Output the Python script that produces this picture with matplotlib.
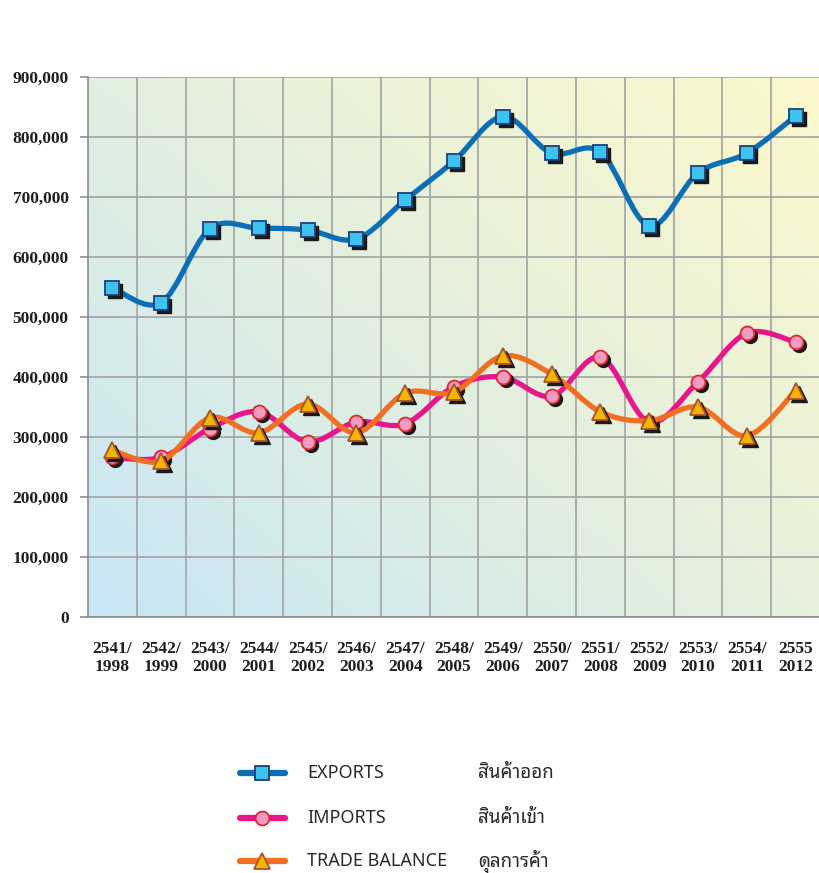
import numpy as np
import matplotlib
matplotlib.use("Agg")
import matplotlib.pyplot as plt
import matplotlib.transforms as mtransforms
from matplotlib.path import Path
from matplotlib.patches import PathPatch
from matplotlib.lines import Line2D

# data (million baht)
be_years = ["2541/", "2542/", "2543/", "2544/", "2545/", "2546/", "2547/", "2548/",
            "2549/", "2550/", "2551/", "2552/", "2553/", "2554/", "2555"]
ad_years = ["1998", "1999", "2000", "2001", "2002", "2003", "2004", "2005",
            "2006", "2007", "2008", "2009", "2010", "2011", "2012"]
exports = [549000, 524000, 647000, 648000, 645000, 630000, 695000, 760000,
           834000, 773000, 775000, 652000, 740000, 773000, 835000]
imports = [266000, 266000, 314000, 342000, 292000, 325000, 322000, 384000,
           400000, 368000, 433000, 325000, 392000, 473000, 458000]
balance = [278000, 260000, 332000, 307000, 355000, 307000, 373000, 375000,
           435000, 405000, 342000, 327000, 350000, 302000, 377000]

series_names = ["EXPORTS", "IMPORTS", "TRADE BALANCE"]
series_thai = ["สินค้าออก", "สินค้าเข้า", "ดุลการค้า"]

W, H = 820, 873
fig = plt.figure(figsize=(W / 100, H / 100), dpi=100)
ax = fig.add_axes([88 / W, 1 - 617 / H, 732 / W, 540 / H])

# gradient background: blue bottom-left -> pale green -> yellow top-right
nx, ny = 200, 200
u = np.linspace(0, 1, nx)[None, :]
v = np.linspace(0, 1, ny)[:, None]
t = np.clip(0.55 * u + 0.45 * v, 0, 1)
c0 = np.array([200, 230, 246]) / 255
c1 = np.array([228, 240, 222]) / 255
c2 = np.array([253, 248, 204]) / 255
t3 = t[..., None]
img = np.where(t3 < 0.5, c0 + (c1 - c0) * (t3 / 0.5), c1 + (c2 - c1) * ((t3 - 0.5) / 0.5))
ax.imshow(img, extent=[-0.5, 14.5, 0, 900000], origin="lower", aspect="auto", zorder=0)

ax.set_xlim(-0.5, 14.5)
ax.set_ylim(0, 900000)


def smooth_path(xs, ys):
    # smoothed line through the points, built from cubic bezier segments
    pts = np.column_stack([xs, ys]).astype(float)
    verts = [pts[0]]
    codes = [Path.MOVETO]
    n = len(pts)
    for i in range(n - 1):
        p0 = pts[i - 1] if i > 0 else pts[i]
        p1 = pts[i]
        p2 = pts[i + 1]
        p3 = pts[i + 2] if i + 2 < n else pts[i + 1]
        verts += [p1 + (p2 - p0) / 6, p2 - (p3 - p1) / 6, p2]
        codes += [Path.CURVE4] * 3
    return Path(verts, codes)


styles = [
    dict(line="#0a6fb6", face="#3cc3f0", edge="#1d3f7a", marker="s", ms=9.5),
    dict(line="#e8168c", face="#f29bc3", edge="#e5232b", marker="o", ms=10),
    dict(line="#f26f22", face="#f6b400", edge="#a8532a", marker="^", ms=11),
]

x = np.arange(len(ad_years))
shadow = mtransforms.offset_copy(ax.transData, fig=fig, x=3, y=-3, units="dots")
for k, (vals, st) in enumerate(zip([exports, imports, balance], styles)):
    z = 3 + k * 3
    ax.add_patch(PathPatch(smooth_path(x, vals), facecolor="none", edgecolor=st["line"],
                           lw=3.8, capstyle="round", zorder=z))
    ax.plot(x, vals, ls="none", marker=st["marker"], ms=st["ms"], mfc="#1a1a1a",
            mec="#1a1a1a", transform=shadow, zorder=z + 1)
    ax.plot(x, vals, ls="none", marker=st["marker"], ms=st["ms"], mfc=st["face"],
            mec=st["edge"], mew=1.3, zorder=z + 2)

# grid and axes
ax.set_yticks(np.arange(0, 900001, 100000))
ax.set_yticklabels([f"{v:,}" for v in range(0, 900001, 100000)])
ax.set_xticks(x)
ax.set_xticklabels([f"{a}\n{b}" for a, b in zip(be_years, ad_years)])
ax.set_xticks(np.arange(0.5, 14.5, 1), minor=True)
ax.grid(True, which="major", axis="y", color="#a2a2a2", lw=1.2, zorder=1)
ax.grid(True, which="minor", axis="x", color="#a2a2a2", lw=1.2, zorder=1)
for s in ["top", "right"]:
    ax.spines[s].set_visible(False)
for s in ["left", "bottom"]:
    ax.spines[s].set_color("#8c8c8c")
    ax.spines[s].set_linewidth(1.2)
ax.tick_params(axis="y", length=6, color="#8c8c8c", width=1.2, pad=8)
ax.tick_params(axis="x", which="both", length=0, pad=17)
for lab in ax.get_yticklabels() + ax.get_xticklabels():
    lab.set_fontfamily("Liberation Serif")
    lab.set_fontweight("bold")
    lab.set_fontsize(12.5)
    lab.set_color("#1e1e1e")
for lab in ax.get_xticklabels():
    lab.set_linespacing(1.2)

# legend below the chart
leg_y = [773, 818, 861]
thai_fams = ["Noto Sans Thai Looped", "Noto Sans Thai", "Noto Sans"]
for yy, st, name, th in zip(leg_y, styles, series_names, series_thai):
    fy = 1 - yy / H
    fig.add_artist(Line2D([240 / W, 285 / W], [fy, fy], color=st["line"], lw=4.5,
                          solid_capstyle="round", transform=fig.transFigure))
    fig.add_artist(Line2D([262 / W], [fy], ls="none", marker=st["marker"], ms=st["ms"],
                          mfc=st["face"], mec=st["edge"], mew=1.3, transform=fig.transFigure))
    fig.text(307 / W, fy, name, family="Noto Sans", fontsize=13, color="#2a2a2a", va="center")
    fig.text(478 / W, fy, th, family=thai_fams, fontsize=13.5, color="#2a2a2a", va="center")

fig.savefig("out.png", dpi=100)
